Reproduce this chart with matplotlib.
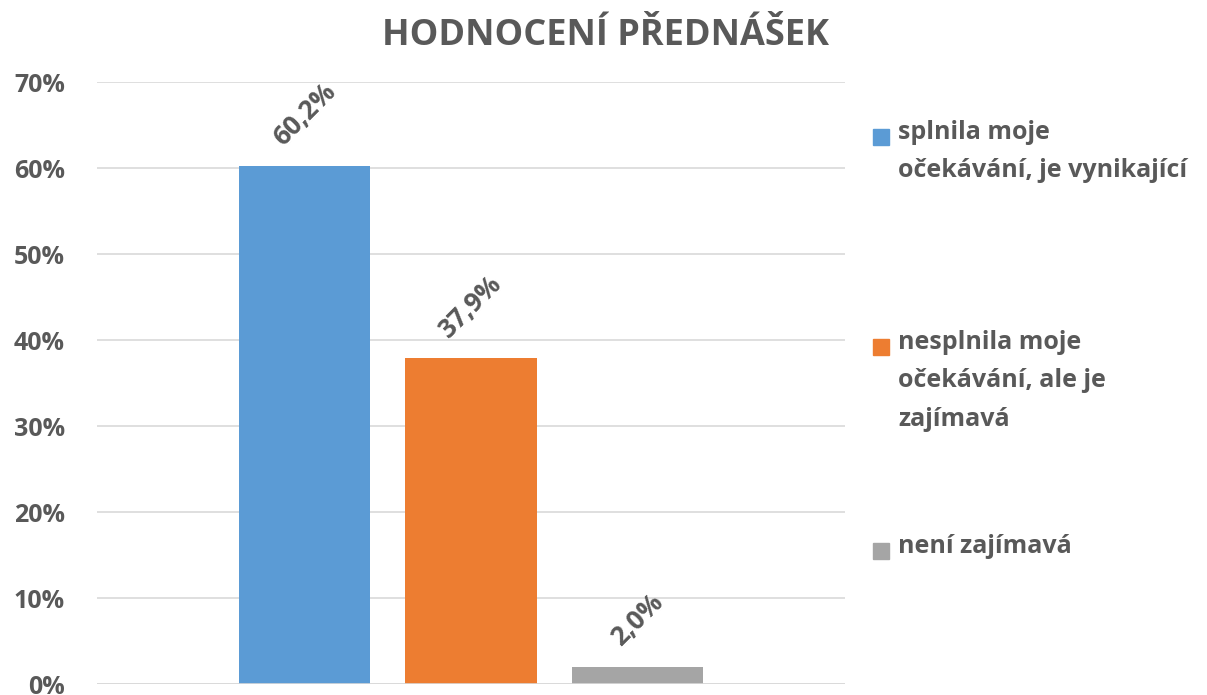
import matplotlib.pyplot as plt
from matplotlib.patches import Rectangle
from matplotlib.ticker import PercentFormatter

categories = ["splnila moje\nočekávání, je vynikající",
              "nesplnila moje\nočekávání, ale je\nzajímavá",
              "není zajímavá"]
values = [0.602, 0.379, 0.020]
value_labels = ["60,2%", "37,9%", "2,0%"]
colors = ["#5B9BD5", "#ED7D31", "#A5A5A5"]

text_color = "#595959"
plt.rcParams['font.family'] = ['Open Sans', 'DejaVu Sans']
plt.rcParams['font.weight'] = 'bold'

fig = plt.figure(figsize=(12.07, 6.95), dpi=100)
ax = fig.add_axes([97 / 1207, 1 - 684 / 695, 748 / 1207, 602 / 695])

xs = range(len(values))
bars = ax.bar(xs, values, width=0.79, color=colors, zorder=2)
for bar, lab in zip(bars, value_labels):
    ax.annotate(lab, (bar.get_x() + bar.get_width() / 2, bar.get_height()),
                xytext=(0, 11), textcoords="offset points",
                ha="center", va="bottom", rotation=45,
                fontsize=19, fontweight="bold", color=text_color)

ax.set_xlim(-1.25, 3.25)
ax.set_ylim(0, 0.70)
ax.set_yticks([i / 10 for i in range(8)])
ax.yaxis.set_major_formatter(PercentFormatter(1.0, decimals=0))
ax.tick_params(axis="y", length=0, labelsize=18, labelcolor=text_color, pad=23)
ax.set_xticks([])
ax.grid(axis="y", color="#D9D9D9", linewidth=1.2, zorder=0)
for s in ax.spines.values():
    s.set_visible(False)
ax.axhline(0, color="#D9D9D9", linewidth=1.2, zorder=3)

fig.text(605 / 1207, 1 - 36 / 695, "HODNOCENÍ PŘEDNÁŠEK", ha="center", va="center",
         fontsize=26, fontweight="bold", color=text_color)

# legend drawn by hand to match spacing
legend_y = [137, 347, 551]
for cat, col, y in zip(categories, colors, legend_y):
    fig.patches.append(Rectangle((873 / 1207, 1 - (y + 8) / 695), 16 / 1207, 16 / 695,
                                 transform=fig.transFigure, color=col))
    fig.text(898 / 1207, 1 - (y - 17) / 695, cat, ha="left", va="top",
             fontsize=18, fontweight="bold", color=text_color, linespacing=1.7)

fig.savefig("out.png", dpi=100)
